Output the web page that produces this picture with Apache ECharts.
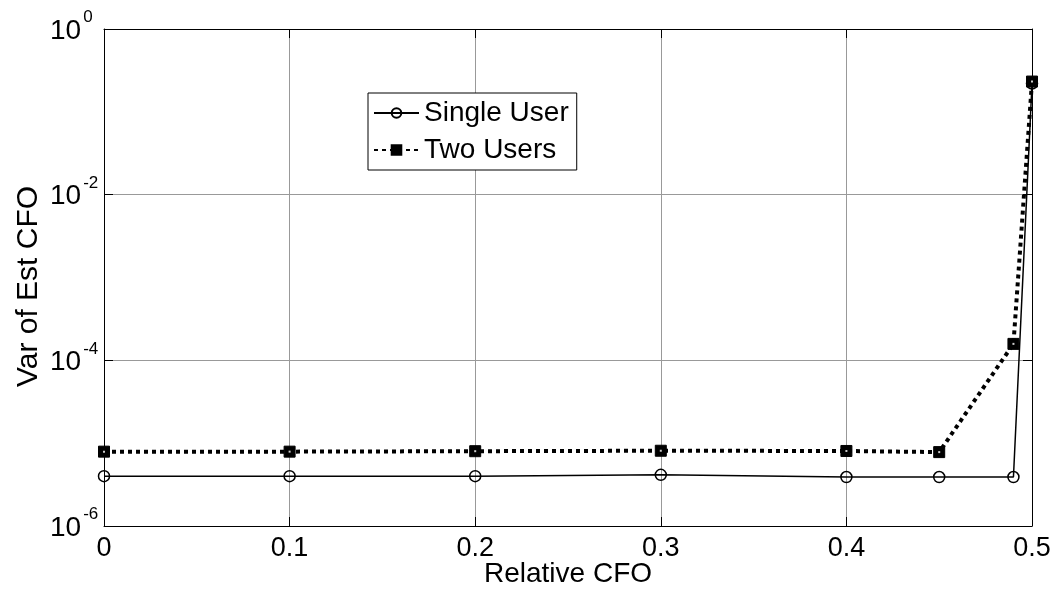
<!DOCTYPE html>
<html><head><meta charset="utf-8">
<script src="https://cdn.jsdelivr.net/npm/echarts@6/dist/echarts.min.js"></script>
<style>html,body{margin:0;padding:0;background:#fff}#c{width:1060px;height:594px}</style>
</head><body><div id="c"></div>
<script>
const xValues = [0, 0.1, 0.2, 0.3, 0.4, 0.45, 0.49, 0.5];
const singleUser = [4.0e-6, 4.0e-6, 4.0e-6, 4.15e-6, 3.9e-6, 3.9e-6, 3.9e-6, 0.22];
const twoUsers = [7.9e-6, 7.9e-6, 8.0e-6, 8.1e-6, 8.05e-6, 7.8e-6, 1.58e-4, 0.232];
const seriesNames = ['Single User', 'Two Users'];
const xTicks = [0, 0.1, 0.2, 0.3, 0.4, 0.5];

const FONT = 'Liberation Sans, Arial, Helvetica, sans-serif';
const pairs = (ys) => xValues.map((x, i) => [x, ys[i]]);

const chart = echarts.init(document.getElementById('c'), null, {renderer: 'canvas'});
const baseX = {
  type: 'value', min: 0, max: 0.5, interval: 0.1,
  axisLine: {show: true, onZero: false, lineStyle: {color: '#000', width: 1}},
  axisTick: {show: true, inside: true, length: 9, lineStyle: {color: '#000'}},
};
const baseY = {
  type: 'log', logBase: 10, min: 1e-6, max: 1, interval: 2,
  axisLine: {show: true, onZero: false, lineStyle: {color: '#000', width: 1}},
  axisTick: {show: true, inside: true, length: 9, lineStyle: {color: '#000'}},
  minorTick: {show: false}
};
chart.setOption({
  animation: false,
  backgroundColor: '#fff',
  grid: {left: 104, top: 29, right: 28, bottom: 68, containLabel: false, outerBoundsMode: 'none'},
  legend: {
    orient: 'vertical', left: 368, top: 93,
    data: seriesNames,
    backgroundColor: '#fff', borderColor: '#000', borderWidth: 1,
    padding: [6, 8, 6, 5], itemGap: 9, itemWidth: 45, itemHeight: 12,
    textStyle: {fontFamily: FONT, fontSize: 28, color: '#000'}
  },
  xAxis: [
    Object.assign({}, baseX, {
      position: 'bottom',
      axisLabel: {show: true, fontFamily: FONT, fontSize: 27, color: '#000', margin: 9,
        formatter: (v) => xTicks.includes(+v.toFixed(2)) ? String(+v.toFixed(2)) : ''},
      splitLine: {show: true, lineStyle: {color: '#999', width: 1}},
      name: 'Relative CFO', nameLocation: 'middle', nameGap: 34, nameMoveOverlap: false,
      nameTextStyle: {fontFamily: FONT, fontSize: 28, color: '#000'}
    }),
    Object.assign({}, baseX, {position: 'top', axisLabel: {show: false}, splitLine: {show: false}})
  ],
  yAxis: [
    Object.assign({}, baseY, {
      position: 'left',
      axisLabel: {show: true, margin: 54, align: 'left', color: '#000', padding: [4, 0, 0, 0],
        formatter: (v) => '{b|10}{s|' + Math.round(Math.log10(v)) + '}',
        rich: {
          b: {fontFamily: FONT, fontSize: 28, lineHeight: 28, color: '#000', verticalAlign: 'bottom'},
          s: {fontFamily: FONT, fontSize: 17, lineHeight: 17, color: '#000', padding: [0, 0, 19, 2], verticalAlign: 'bottom'}
        }},
      splitLine: {show: true, lineStyle: {color: '#999', width: 1}},
      name: 'Var of Est CFO', nameLocation: 'middle', nameGap: 60, nameMoveOverlap: false,
      nameTextStyle: {fontFamily: FONT, fontSize: 30, color: '#000', padding: [0, 18, 0, 0]}
    }),
    Object.assign({}, baseY, {position: 'right', axisLabel: {show: false}, splitLine: {show: false}})
  ],
  series: [
    {
      name: seriesNames[1], type: 'line', data: pairs(twoUsers),
      xAxisIndex: 0, yAxisIndex: 0,
      symbol: 'rect', symbolSize: 11,
      itemStyle: {color: '#000', borderColor: '#000', borderWidth: 1},
      lineStyle: {color: '#000', width: 4, type: [4, 4], cap: 'butt'},
      z: 2
    },
    {
      name: seriesNames[1] + ' dot', type: 'scatter', data: pairs(twoUsers),
      xAxisIndex: 0, yAxisIndex: 0,
      symbol: 'rect', symbolSize: 2, silent: true,
      itemStyle: {color: '#fff'}, z: 3
    },
    {
      name: seriesNames[0], type: 'line', data: pairs(singleUser),
      xAxisIndex: 0, yAxisIndex: 0,
      symbol: 'circle', symbolSize: 11,
      itemStyle: {color: 'rgba(255,255,255,0)', borderColor: '#000', borderWidth: 1.5},
      lineStyle: {color: '#000', width: 1.5},
      z: 4
    }
  ]
});
</script></body></html>
